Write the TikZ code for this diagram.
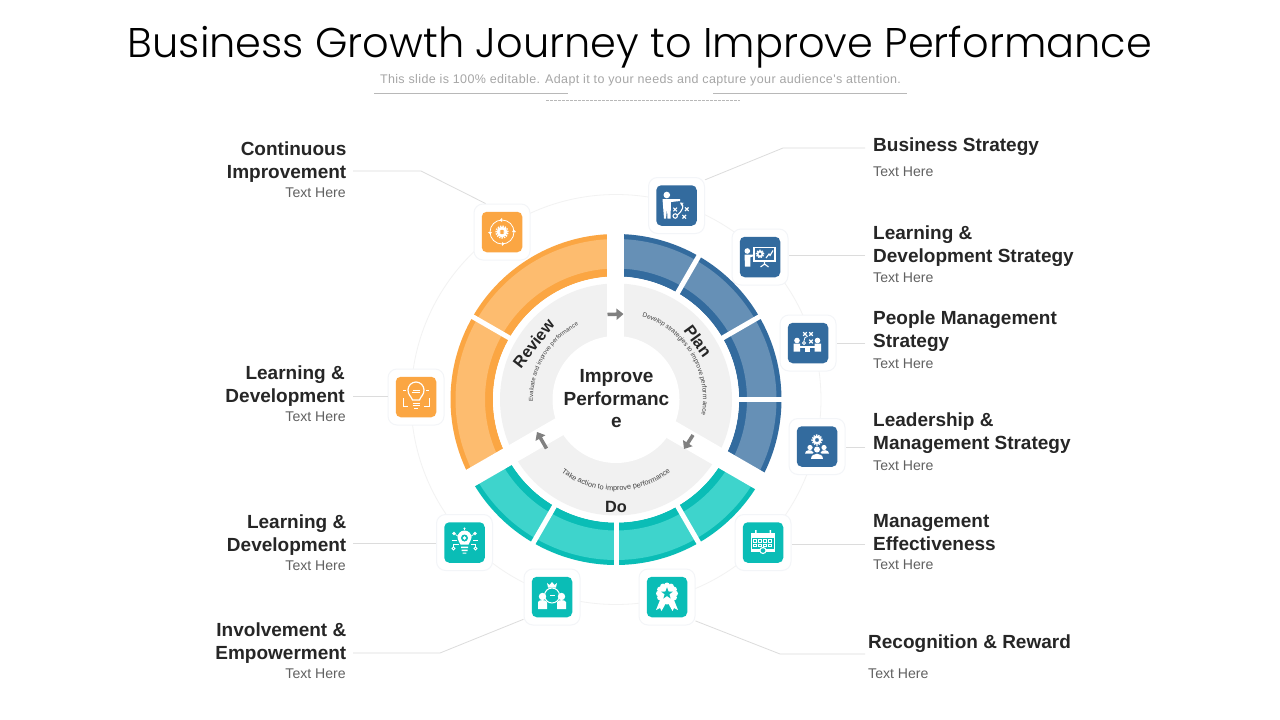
\documentclass[tikz,border=0pt]{standalone}
\usepackage{fontspec}
\setmainfont{Liberation Sans}
\newfontfamily\titlefont{Poppins Light}
\newfontfamily\subfont[LetterSpace=3]{Liberation Sans}
\usetikzlibrary{arrows.meta,decorations.text}
\definecolor{bluedark}{HTML}{336B9E}
\definecolor{bluelight}{HTML}{6690B6}
\definecolor{orgdark}{HTML}{FBA643}
\definecolor{orglight}{HTML}{FDBC6F}
\definecolor{tealdark}{HTML}{0ABDB6}
\definecolor{teallight}{HTML}{3ED4CC}
\definecolor{ringgrey}{HTML}{F1F1F1}
\definecolor{leadergrey}{HTML}{DCDCDC}
\definecolor{labelink}{HTML}{262626}
\definecolor{haloedge}{HTML}{F3F5F8}
\newcommand\annsec[5]{\fill[#1] (#2:#4) arc[start angle=#2,end angle=#3,radius=#4] -- (#3:#5) arc[start angle=#3,end angle=#2,radius=#5] -- cycle;}
\newcommand\seg[4]{\annsec{#1}{#3}{#4}{165.5}{123}\annsec{#2}{#3}{#4}{160.5}{131}}
\newcommand\cogwheel[3]{% x,y,r
  \draw[white,line width=1.3pt,dash pattern=on 1.4pt off 1.1pt] (#1,#2) circle (#3*0.92);
  \draw[white,line width=#3*0.42pt] (#1,#2) circle (#3*0.6);}
\newcommand\crossmark[2]{\draw[white,line width=1.1pt] (#1-1.8,#2-1.8) -- (#1+1.8,#2+1.8) (#1-1.8,#2+1.8) -- (#1+1.8,#2-1.8);}
\tikzset{
  x=1pt,y=1pt,
  halo/.style={draw=haloedge,fill=white,line width=1pt,rounded corners=9pt,minimum size=56pt,inner sep=0pt},
  tile/.style={fill=#1,rounded corners=5pt,minimum size=40.5pt,inner sep=0pt},
  leader/.style={draw=leadergrey,line width=0.8pt},
  head/.style={font=\fontsize{19}{23}\selectfont\bfseries,text=labelink,inner sep=0pt},
  headl/.style={head,align=right,anchor=east},
  headr/.style={head,align=left,anchor=west},
  thr/.style={font=\fontsize{14.1}{16}\selectfont,text=black!62,inner sep=0pt,anchor=west},
  thl/.style={font=\fontsize{14.1}{16}\selectfont,text=black!62,inner sep=0pt,anchor=east},
  flow/.style={draw=black!50,line width=3.5pt,-{Triangle[length=7pt,width=11pt]}},
  curvetext/.style={decorate,decoration={text along path,text align=center,text color=black!75,text={#1}}},
  phase/.style={font=\fontsize{16.3}{20}\selectfont\bfseries,text=labelink,inner sep=0pt},
  rule/.style={draw=black!28,line width=0.8pt}
}
\begin{document}
\begin{tikzpicture}
\useasboundingbox (0,0) rectangle (1280,-720);
\fill[white] (0,0) rectangle (1280,-720);
% title
\node[inner sep=0pt,anchor=base,font=\titlefont\fontsize{41.5}{50}\selectfont,text=black] (title) at (640,-57.7) {Business Growth Journey to Improve Performance};
\node[inner sep=0pt,font=\subfont\fontsize{12.5}{14}\selectfont,text=black!35] (sub) at (640.5,-80) {This slide is 100\% editable. Adapt it to your needs and capture your audience's attention.};
\coordinate (r1a) at (374,-93.5); \coordinate (r1b) at (568,-93.5);
\coordinate (r2a) at (713,-93.5); \coordinate (r2b) at (907,-93.5);
\coordinate (r3a) at (546,-100.5); \coordinate (r3b) at (740,-100.5);
\draw[rule] (r1a) -- (r1b);
\draw[rule] (r2a) -- (r2b);
\draw[rule,dash pattern=on 2.5pt off 1.5pt] (r3a) -- (r3b);
% faint orbit
\coordinate (hub) at (616,-399.5);
\draw[black!5,line width=0.8pt] (hub) circle (205);
% tiles
\foreach \n/\px/\py/\c in {b1/676.5/205.5/bluedark,b2/760/257/bluedark,b3/808/343/bluedark,b4/817/446.5/bluedark,o1/502/232/orgdark,o2/416/397/orgdark,t1/464.5/542.5/tealdark,t2/552/597/tealdark,t3/667/597/tealdark,t4/763/542.5/tealdark}{
  \node[halo] (h\n) at (\px,-\py) {};
  \node[tile=\c] (\n) at (\px,-\py) {};
}
% labels
\node[headl] (lo1) at (346.5,-162) {Continuous\\Improvement};
\node[thl] (tho1) at (346,-193) {Text Here};
\node[headl] (lo2) at (345,-386) {Learning \&\\Development};
\node[thl] (tho2) at (346,-417) {Text Here};
\node[headl] (lt1) at (346.5,-535) {Learning \&\\Development};
\node[thl] (tht1) at (346,-566) {Text Here};
\node[headl] (lt2) at (346.5,-643) {Involvement \&\\Empowerment};
\node[thl] (tht2) at (346,-674) {Text Here};
\node[headr] (lb1) at (873,-146.5) {Business Strategy};
\node[thr] (thb1) at (873,-172) {Text Here};
\node[headr] (lb2) at (873,-246) {Learning \&\\Development Strategy};
\node[thr] (thb2) at (873,-278) {Text Here};
\node[headr] (lb3) at (873,-331) {People Management\\Strategy};
\node[thr] (thb3) at (873,-364) {Text Here};
\node[headr] (lb4) at (873,-433) {Leadership \&\\Management Strategy};
\node[thr] (thb4) at (873,-466) {Text Here};
\node[headr] (lt4) at (873,-533) {Management\\Effectiveness};
\node[thr] (tht4) at (873,-565) {Text Here};
\node[headr] (lt3) at (868,-643.5) {Recognition \& Reward};
\node[thr] (tht3) at (868,-674) {Text Here};
% leaders
\coordinate (eo1) at (353,-171); \coordinate (ko1) at (421,-171);
\coordinate (eo2) at (353,-396);
\coordinate (et1) at (353,-543.5);
\coordinate (et2) at (353,-653); \coordinate (kt2) at (440,-653);
\coordinate (eb1) at (865,-148); \coordinate (kb1) at (783,-148);
\coordinate (eb2) at (865,-255);
\coordinate (eb3) at (865,-343);
\coordinate (eb4) at (865,-447);
\coordinate (et4) at (865,-544);
\coordinate (et3) at (865,-654); \coordinate (kt3) at (780,-654);
\draw[leader] (eo1) -- (ko1) -- (ho1.120);
\draw[leader] (eo2) -- (eo2 -| ho2.west);
\draw[leader] (et1) -- (et1 -| ht1.west);
\draw[leader] (et2) -- (kt2) -- (ht2.218);
\draw[leader] (eb1) -- (kb1) -- (hb1.42);
\draw[leader] (eb2) -- (eb2 -| hb2.east);
\draw[leader] (eb3) -- (eb3 -| hb3.east);
\draw[leader] (eb4) -- (eb4 -| hb4.east);
\draw[leader] (et4) -- (et4 -| ht4.east);
\draw[leader] (et3) -- (kt3) -- (ht3.-40);
% wheel
\begin{scope}[shift={(616,-399.5)}]
\seg{bluedark}{bluelight}{30}{60}
\seg{bluedark}{bluelight}{0}{30}
\seg{bluedark}{bluelight}{-30}{0}
\seg{bluedark}{bluelight}{60}{90}
\seg{orgdark}{orglight}{90}{150}
\seg{orgdark}{orglight}{150}{210}
\seg{tealdark}{teallight}{210}{240}
\seg{tealdark}{teallight}{240}{270}
\seg{tealdark}{teallight}{270}{300}
\seg{tealdark}{teallight}{300}{330}
\fill[white] (0,0) circle (123);
\fill[ringgrey] (0,0) circle (116);
% dividers
\foreach \a in {0,30,60,150,240,270,300}{\draw[white,line width=5pt] (\a:118) -- (\a:168);}
% gaps between the three phases
\fill[white] (-9,40) rectangle (8,172);
\begin{scope}[rotate=-30]\fill[white] (40,-8) rectangle (172,11);\end{scope}
\begin{scope}[rotate=210]\fill[white] (40,-14) rectangle (172,4.5);\end{scope}
\fill[white] (0,0) circle (63.5);
% curved captions
\path[curvetext={|\fontsize{6.5}{8}\selectfont|Develop strategies to improve perform ance}] (73:87) arc[start angle=73,end angle=-11,radius=87];
\path[curvetext={|\fontsize{6}{8}\selectfont|Evaluate and improve performance}] (182:83) arc[start angle=182,end angle=116,radius=83];
\path[curvetext={|\fontsize{7.3}{8}\selectfont|Take action to improve performance}] (231:91) arc[start angle=231,end angle=309,radius=91];
\end{scope}
\node[phase,rotate=-54] (plan) at (698,-341) {Plan};
\node[phase,rotate=52] (review) at (533.5,-343.5) {Review};
\node[phase] (do) at (616,-507) {Do};
\node[inner sep=0pt,align=center,font=\fontsize{19}{22.5}\selectfont\bfseries,text=labelink] (core) at (616.5,-399) {Improve\\Performanc\\e};
% flow arrows
\coordinate (fa1) at (607.5,-314.5); \coordinate (fa2) at (623.5,-314);
\coordinate (fb1) at (693,-435); \coordinate (fb2) at (684,-449);
\coordinate (fc1) at (546.5,-448.5); \coordinate (fc2) at (537,-432);
\draw[flow] (fa1) -- (fa2);
\draw[flow] (fb1) -- (fb2);
\draw[flow] (fc1) -- (fc2);
% icon b1: coach
\begin{scope}[shift={(676.5,-205.5)}]
\fill[white] (-9.7,10.5) circle (3.3);
\fill[white] (-14,6.5) -- (3.5,6.5) -- (3.5,4.5) -- (-5.5,3.5) -- (-6,-13) -- (-9,-13) -- (-9.5,-3) -- (-10.5,-13) -- (-12.5,-13) -- cycle;
\crossmark{-1.3}{-4}\crossmark{10.3}{-3.7}\crossmark{7.7}{-11.3}
\draw[white,line width=1.1pt] (-1.3,-10.5) circle (2.2);
\draw[white,line width=1.1pt,-{Stealth[length=3.5pt,width=4pt]}] (0.7,-9.5) .. controls (6.5,-5) and (7.5,0) .. (3.5,3);
\end{scope}
% icon b2: presentation
\begin{scope}[shift={(760,-257)}]
\fill[white] (-12.7,6) circle (2.8);
\fill[white] (-15.5,2.5) -- (-7,2.5) -- (-7,0.5) -- (-9.5,0) -- (-9.7,-9.5) -- (-15,-9.5) -- cycle;
\draw[white,line width=1.1pt] (-6,9.5) rectangle (15,-4);
\cogwheel{0}{3}{4}
\draw[white,line width=1.1pt] (6,-1) -- (9,3) -- (10,1.5) -- (13,6.5);
\draw[white,line width=1.1pt] (4.5,-4) -- (4.5,-8) (0.5,-10) -- (4.5,-7) -- (8.5,-10);
\end{scope}
% icon b3: meeting
\begin{scope}[shift={(808,-343)}]
\fill[white] (-11,2.5) circle (2.8) (9.5,2.5) circle (2.8);
\fill[white] (-14.5,-0.5) rectangle (-8,-8.5) (6.5,-0.5) rectangle (13,-8.5);
\fill[white] (-14.5,-2.5) rectangle (13,-4.8);
\fill[white] (-3,-4.8) rectangle (1.5,-8.5);
\crossmark{-3}{9}\crossmark{3}{9}\crossmark{3}{1.5}
\draw[white,line width=0.9pt] (-4,0) circle (1.6);
\draw[white,line width=0.8pt] (-4,2) .. controls (-5,5) and (-2,6) .. (0,7);
\end{scope}
% icon b4: team and gear
\begin{scope}[shift={(817,-446.5)}]
\cogwheel{0}{6.5}{5.5}
\fill[white] (-7,-1) circle (2.6) (7,-1) circle (2.6) (0,-3) circle (3);
\fill[white] (-12,-7) .. controls (-12,-3) and (-5,-2.5) .. (-3.5,-6) -- (-4.5,-7) -- cycle;
\fill[white] (12,-7) .. controls (12,-3) and (5,-2.5) .. (3.5,-6) -- (4.5,-7) -- cycle;
\fill[white] (-6,-12.5) .. controls (-6,-5.5) and (6,-5.5) .. (6,-12.5) -- cycle;
\end{scope}
% icon o1: cog in a ring of arrows
\begin{scope}[shift={(502,-232)}]
\cogwheel{0}{0}{6.5}
\draw[white,line width=0.8pt] (0,0) circle (12);
\foreach \a in {0,90,180,270}{\fill[white] (\a:10) -- (\a+12:12) -- (\a:14) -- cycle;}
\fill[white] (-1.3,0) circle (0.5) (1.3,0) circle (0.5);
\end{scope}
% icon o2: bulb
\begin{scope}[shift={(416,-397)}]
\draw[white,line width=1.2pt] (-3.5,-3) .. controls (-5,1) and (-8,2) .. (-8,7) arc[start angle=180,end angle=0,radius=8] .. controls (8,2) and (5,1) .. (3.5,-3) -- cycle;
\draw[white,line width=1pt] (-3.5,-6) -- (3.5,-6) (-3.5,-8.5) -- (3.5,-8.5) (-2,-11) -- (2,-11);
\draw[white,line width=0.9pt] (-3.5,7) -- (3.5,7) (-4,4.5) -- (4,4.5);
\draw[white,line width=0.7pt] (-13,-1) -- (-13,-9) -- (-8,-9) (13,-1) -- (13,-9) -- (8,-9);
\draw[white,line width=0.7pt] (-13,7) -- (-10,7) (13,7) -- (10,7);
\end{scope}
% icon t1: circuit bulb
\begin{scope}[shift={(464.5,-542.5)}]
\fill[white] (-4,-2) .. controls (-5,1) and (-7,2) .. (-7,5) arc[start angle=180,end angle=0,radius=7] .. controls (7,2) and (5,1) .. (4,-2) -- cycle;
\fill[tealdark] (0,4.5) circle (3.5);
\fill[white] (0,4.5) circle (1.8);
\fill[white] (-3.5,-4) rectangle (3.5,-5.5) (-3,-7) rectangle (3,-8.5) (-1.8,-10) rectangle (1.8,-11);
\fill[white] (-10.5,9) circle (1.8) (10.5,9) circle (1.8) (0,14) circle (1.2);
\draw[white,line width=0.8pt] (-9,8) -- (-6,6) (9,8) -- (6,6) (0,14) -- (0,12.5);
\draw[white,line width=0.8pt] (-13,2) -- (-8,2) (13,2) -- (8,2);
\draw[white,line width=0.8pt] (-11,-6) circle (1.5) (11,-6) circle (1.5);
\draw[white,line width=0.8pt] (-11,-4.5) -- (-11,-1.5) -- (-6,-1.5) (11,-4.5) -- (11,-1.5) -- (6,-1.5);
\end{scope}
% icon t2: crowned pair
\begin{scope}[shift={(552,-597)}]
\fill[white] (-4,9.5) -- (-5,14) -- (-2.5,12) -- (0,15) -- (2.5,12) -- (5,14) -- (4,9.5) -- cycle;
\draw[white,line width=1pt] (0,1.5) circle (7.5);
\fill[white] (-2.5,1) rectangle (2.5,2);
\fill[white] (-9.5,0.5) circle (3.7) (9.5,0.5) circle (3.7);
\fill[white] (-14,-12) -- (-14,-5) .. controls (-14,-2.5) and (-5,-2.5) .. (-5,-5) -- (-5,-12) -- cycle;
\fill[white] (14,-12) -- (14,-5) .. controls (14,-2.5) and (5,-2.5) .. (5,-5) -- (5,-12) -- cycle;
\end{scope}
% icon t3: rosette
\begin{scope}[shift={(667,-597)}]
\fill[white] (-7,-3) -- (-11,-13) -- (-7,-11) -- (-5.5,-14) -- (-1,-6) -- cycle;
\fill[white] (7,-3) -- (11,-13) -- (7,-11) -- (5.5,-14) -- (1,-6) -- cycle;
\foreach \a in {0,30,...,330}{\fill[white] (0,3.5)++(\a:8.2) circle (2.8);}
\fill[white] (0,3.5) circle (9);
\begin{scope}[shift={(0,3.5)}]
\fill[tealdark] (90:6.2) -- (126:2.5) -- (162:6.2) -- (198:2.5) -- (234:6.2) -- (270:2.5) -- (306:6.2) -- (342:2.5) -- (18:6.2) -- (54:2.5) -- cycle;
\end{scope}
\end{scope}
% icon t4: calendar
\begin{scope}[shift={(763,-542.5)}]
\fill[white] (-12,10) rectangle (12,5);
\fill[white] (-8,12.5) rectangle (-6.5,8) (6.5,12.5) rectangle (8,8);
\draw[white,line width=0.9pt] (-11.5,5) -- (-11.5,-7) -- (11.5,-7) -- (11.5,5);
\foreach \x in {-8,-3,2,7}{\foreach \y in {1.5,-3}{\draw[white,line width=0.7pt] (\x-1.5,\y-1.2) rectangle (\x+1.5,\y+1.2);}}
\fill[white] (-12,-7.5) rectangle (12,-9);
\fill[white] (0,-8) circle (3.6);
\fill[tealdark] (0,-8) circle (2.3);
\end{scope}
\end{tikzpicture}
\end{document}
